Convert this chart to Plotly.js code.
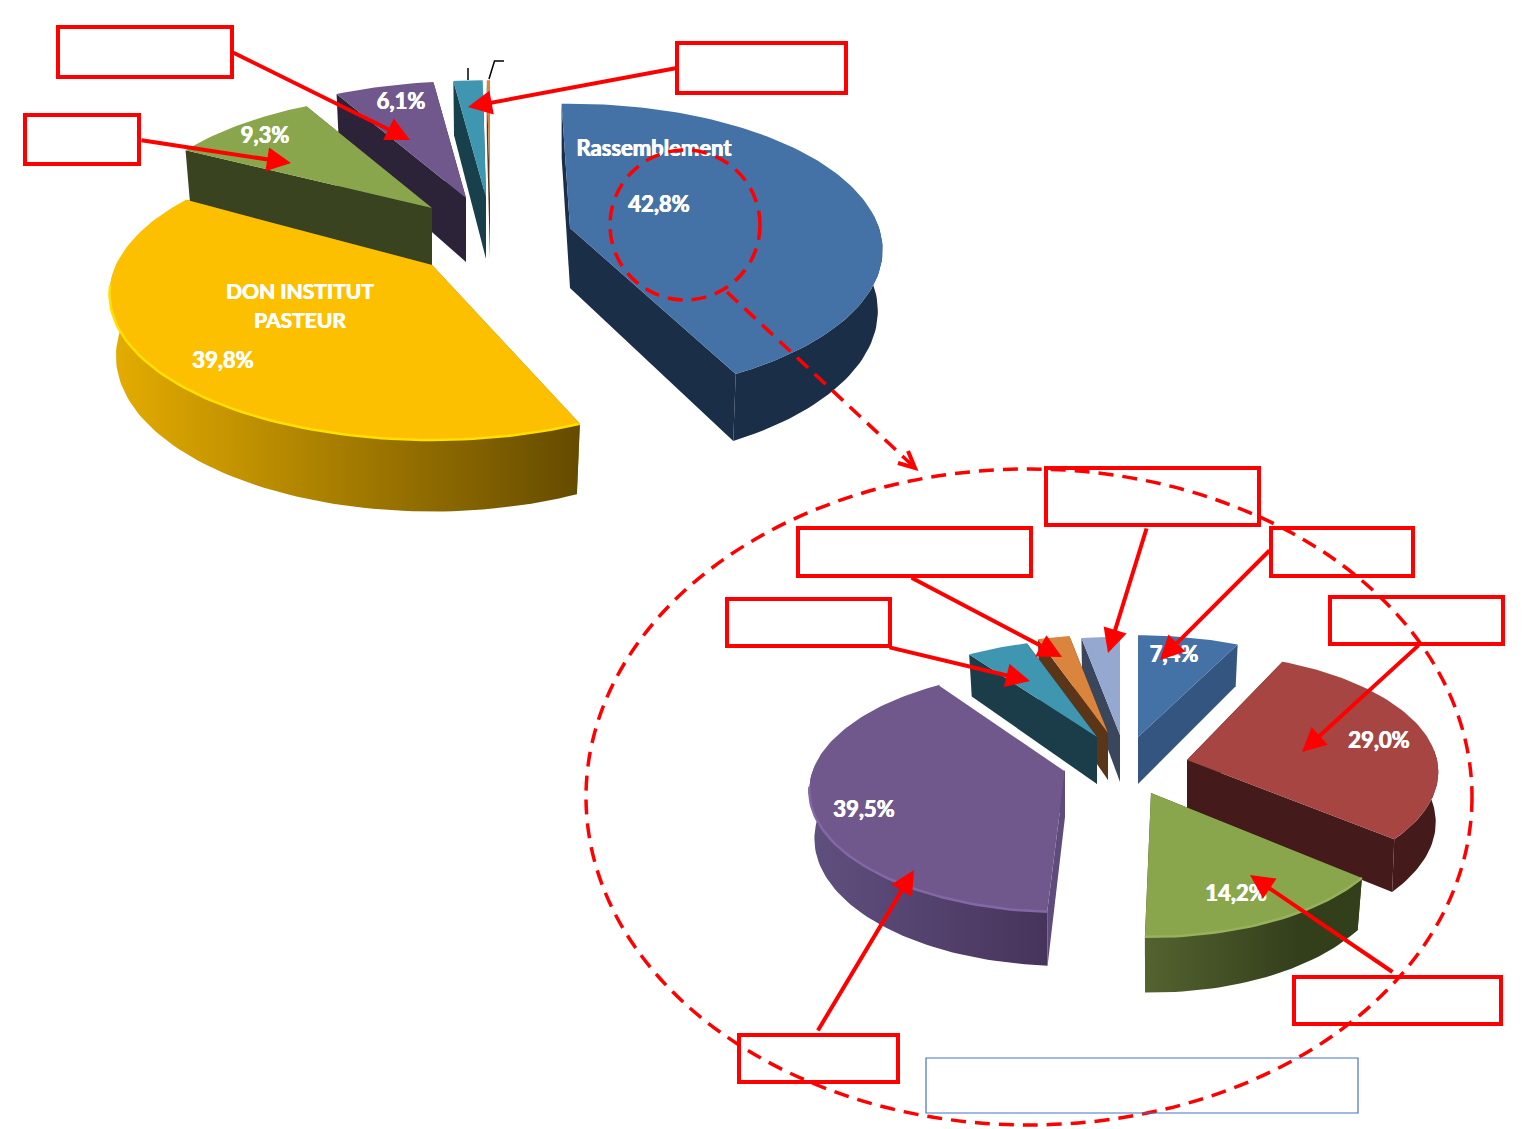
<!DOCTYPE html>
<html><head><meta charset="utf-8">
<script src="https://cdn.plot.ly/plotly-3.0.1.min.js"></script>
<style>html,body{margin:0;padding:0;background:#fff}#c{width:1525px;height:1129px}</style>
</head><body><div id="c"></div>
<script>
// ---- data ----
const bigCategories = ['Rassemblement','DON INSTITUT PASTEUR','Catégorie C','Catégorie D','Catégorie E','Catégorie F'];
const bigValues = [42.8,39.8,9.3,6.1,1.8,0.2];
const smallCategories = ['Part A','Part B','Part C','Part D','Part E','Part F','Part G'];
const smallValues = [7.4,29.0,14.2,39.5,4.6,2.4,2.9];

// ---- drawing style ----
const bigPie = {rx:312, ry:140, k:0.2, depth:62, shrink:0.98};
const smallPie = {rx:250, ry:115, k:0.2, depth:47, shrink:0.98};
const bigStyle = [
 {apex:[570,228],rot:-1.8,geo:{rx:309,ry:143,k:0.15,depth:60,shrink:0.985},top:'#4472A6',side:'#1B2E47',order:6},
 {apex:[432,265],rot:3.5,geo:{rx:316,ry:140,depth:60},top:'#FDC000',side:'#8A6A00',grad:['#E4AC00','#654B00',115,580],hi:'#FFE000',order:5},
 {apex:[432,208],geo:{rx:303,ry:137},top:'#8AA64C',side:'#39431F',order:4},
 {apex:[466,198],geo:{depth:64},top:'#70588D',side:'#2C2339',order:3},
 {apex:[486,197],top:'#3F96B0',side:'#183F4C',order:2},
 {apex:[490,197],top:'#DB843D',side:'#5A3518',order:1}
];
const smallStyle = [
 {apex:[1138,737],geo:{rx:262,ry:122},top:'#4472A6',side:'#33557F',order:4},
 {apex:[1187,760],rot:-2,geo:{rx:250,ry:118,k:0.1,depth:50,shrink:0.99},top:'#A64542',side:'#441B1A',order:5},
 {apex:[1151,793],rot:-1,geo:{rx:240},top:'#8AA64C',side:'#39431F',grad:['#556330','#333E1B',1143,1300],hi:'#98B25C',order:7},
 {apex:[1065,770],rot:1.2,geo:{rx:252,ry:118,k:0.17},top:'#70588D',side:'#4A3560',face:'#5E4C7C',grad:['#60507F','#47345C',810,1047],hi:'#8268A5',edge:'#ffffff',order:6},
 {apex:[1097,737],geo:{rx:255,ry:118},top:'#3F96B0',side:'#1B3D4A',order:3},
 {apex:[1108,733],geo:{rx:255,ry:118},top:'#DB843D',side:'#5A3518',order:2},
 {apex:[1120,735],geo:{rx:255,ry:118},top:'#95A8D0',side:'#3A465C',order:1}
];

const D2R = Math.PI/180;
function project(p, a, deg, r, low){
  const x = Math.sin(deg*D2R), y = -Math.cos(deg*D2R);
  const s = 1/(1-p.k*y);
  let dx = r*p.rx*x*s, dy = r*p.ry*y*s;
  if(low){ dx*=p.shrink; dy=dy*p.shrink+p.depth*(r===0?1:s); }
  return [a[0]+dx, a[1]+dy];
}
function poly(pts){ return {x:pts.map(q=>q[0]), y:pts.map(q=>q[1])}; }
function arc(p,a,t0,t1,low){ const n=Math.max(4,Math.ceil(Math.abs(t1-t0)/1.5)), out=[]; for(let i=0;i<=n;i++){ out.push(project(p,a,t0+(t1-t0)*i/n,1,low)); } return out; }

function buildPie(pie, values, names, styles){
  const total = values.reduce((u,v)=>u+v,0);
  let acc=0; const items=[];
  values.forEach((v,i)=>{ const st=styles[i]; const r=st.rot||0; items.push({t0:acc/total*360+r,t1:(acc+v)/total*360+r,st,name:names[i]}); acc+=v; });
  items.sort((a,b)=>a.st.order-b.st.order);
  const tr=[];
  const base={type:'scatter',mode:'lines',line:{width:0},hoverinfo:'name',showlegend:false};
  items.forEach(it=>{
    const a=it.st.apex, p=Object.assign({},pie,it.st.geo||{});
    const face=(t)=>[ project(p,a,t,0,false), project(p,a,t,1,false), project(p,a,t,1,true), project(p,a,t,0,true) ];
    tr.push(Object.assign({},base,poly(face(it.t1)),{name:it.name,fill:'toself',fillcolor:it.st.side}));
    tr.push(Object.assign({},base,poly(face(it.t0)),{name:it.name,fill:'toself',fillcolor:it.st.face||it.st.side}));
    const f0=Math.max(it.t0,85), f1=Math.min(it.t1,272);
    if(f1>f0){
      const rim=arc(p,a,f0,f1,false).concat(arc(p,a,f1,f0,true));
      const t=Object.assign({},base,poly(rim),{name:it.name,fill:'toself',fillcolor:it.st.side});
      if(it.st.grad){ t.fillgradient={type:'horizontal',colorscale:[[0,it.st.grad[0]],[1,it.st.grad[1]]],start:it.st.grad[2],stop:it.st.grad[3]}; }
      tr.push(t);
    }
    const top=[project(p,a,it.t0,0,false)].concat(arc(p,a,it.t0,it.t1,false));
    tr.push(Object.assign({},base,poly(top),{name:it.name,fill:'toself',fillcolor:it.st.top}));
    if(it.st.edge){
      tr.push(Object.assign({},base,poly([project(p,a,it.t1,0,false),project(p,a,it.t1,1,false)]),{name:it.name,line:{width:2.5,color:it.st.edge}}));
    }
    if(it.st.hi){
      const h0=Math.max(it.t0,92), h1=Math.min(it.t1,262);
      tr.push(Object.assign({},base,poly(arc(p,a,h0,h1,false)),{name:it.name,line:{width:2.5,color:it.st.hi}}));
    }
  });
  return tr;
}

const fmt=v=>v.toFixed(1).replace('.',',')+'%';
const labelFont={family:'Lato, "Open Sans", sans-serif',size:[22,22,22,22,21,21,22,22,22,22,22],color:'#ffffff',weight:700,shadow:'0.4px 0 0 #fff, -0.4px 0 0 #fff'};
const labels={type:'scatter',mode:'text',hoverinfo:'skip',showlegend:false,textfont:labelFont,textposition:'middle center',
 x:[659,223,265,401, 300,300,654, 1174,1379,1236,864],
 y:[206,362,137,103, 294,323,150, 656,742,895,811],
 text:[fmt(bigValues[0]),fmt(bigValues[1]),fmt(bigValues[2]),fmt(bigValues[3]),
       'DON INSTITUT','PASTEUR','Rassemblement',
       fmt(smallValues[0]),fmt(smallValues[1]),fmt(smallValues[2]),fmt(smallValues[3])]};

const traces=buildPie(bigPie,bigValues,bigCategories,bigStyle)
  .concat(buildPie(smallPie,smallValues,smallCategories,smallStyle))
  .concat([labels]);

const DASH='15px,9px';
const box=(x0,y0,x1,y1,c,w)=>({type:'rect',xref:'x',yref:'y',x0,y0,x1,y1,line:{color:c||'#FF0000',width:w||4},fillcolor:'rgba(0,0,0,0)',layer:'above'});
const shapes=[
 {type:'circle',xref:'x',yref:'y',x0:586,y0:469,x1:1472,y1:1125,line:{color:'#FF0000',width:3.5,dash:DASH},layer:'above'},
 {type:'circle',xref:'x',yref:'y',x0:610,y0:150,x1:760,y1:300,line:{color:'#FF0000',width:3.5,dash:DASH},layer:'above'},
 {type:'line',xref:'x',yref:'y',x0:727,y0:292,x1:912,y1:465,line:{color:'#FF0000',width:3.5,dash:DASH},layer:'above'},
 {type:'path',xref:'x',yref:'y',path:'M908,451 L915,468 L898,463',line:{color:'#FF0000',width:4},layer:'above'},
 {type:'line',xref:'x',yref:'y',x0:468,y0:68,x1:468,y1:80,line:{color:'#000',width:1.5},layer:'above'},
 {type:'path',xref:'x',yref:'y',path:'M489,79 L494.5,61 L504,61',line:{color:'#000',width:1.5},layer:'above'},
 box(58,27,232,77),box(25,115,139,164),box(677,43,846,93),box(1046,468,1259,525),
 box(798,528,1031,576),box(1271,528,1413,576),box(1330,597,1503,644),box(727,599,890,646),
 box(1294,977,1501,1024),box(739,1035,898,1082),box(926,1058,1358,1113,'#4472C4',1.2)
];
const arrow=(ax,ay,x,y)=>({xref:'x',yref:'y',axref:'x',ayref:'y',x,y,ax,ay,text:'',showarrow:true,arrowhead:2,arrowsize:1.2,arrowwidth:4,arrowcolor:'#FF0000',standoff:0,startstandoff:0});
const annotations=[
 arrow(232,52,410,140),arrow(140,140,291,163),arrow(677,68,468,107),arrow(1147,527,1108,653),
 arrow(910,577,1062,657),arrow(1271,549,1160,660),arrow(888,647,1030,681),arrow(1420,644,1302,752),
 arrow(1394,973,1250,875),arrow(817,1032,914,870)
];
const layout={width:1525,height:1129,margin:{l:0,r:0,t:0,b:0},paper_bgcolor:'#fff',plot_bgcolor:'#fff',showlegend:false,
 xaxis:{range:[0,1525],visible:false,fixedrange:true},yaxis:{range:[1129,0],visible:false,fixedrange:true},
 shapes,annotations,hovermode:'closest'};
Plotly.newPlot('c',traces,layout,{displayModeBar:false,responsive:false});
</script></body></html>
